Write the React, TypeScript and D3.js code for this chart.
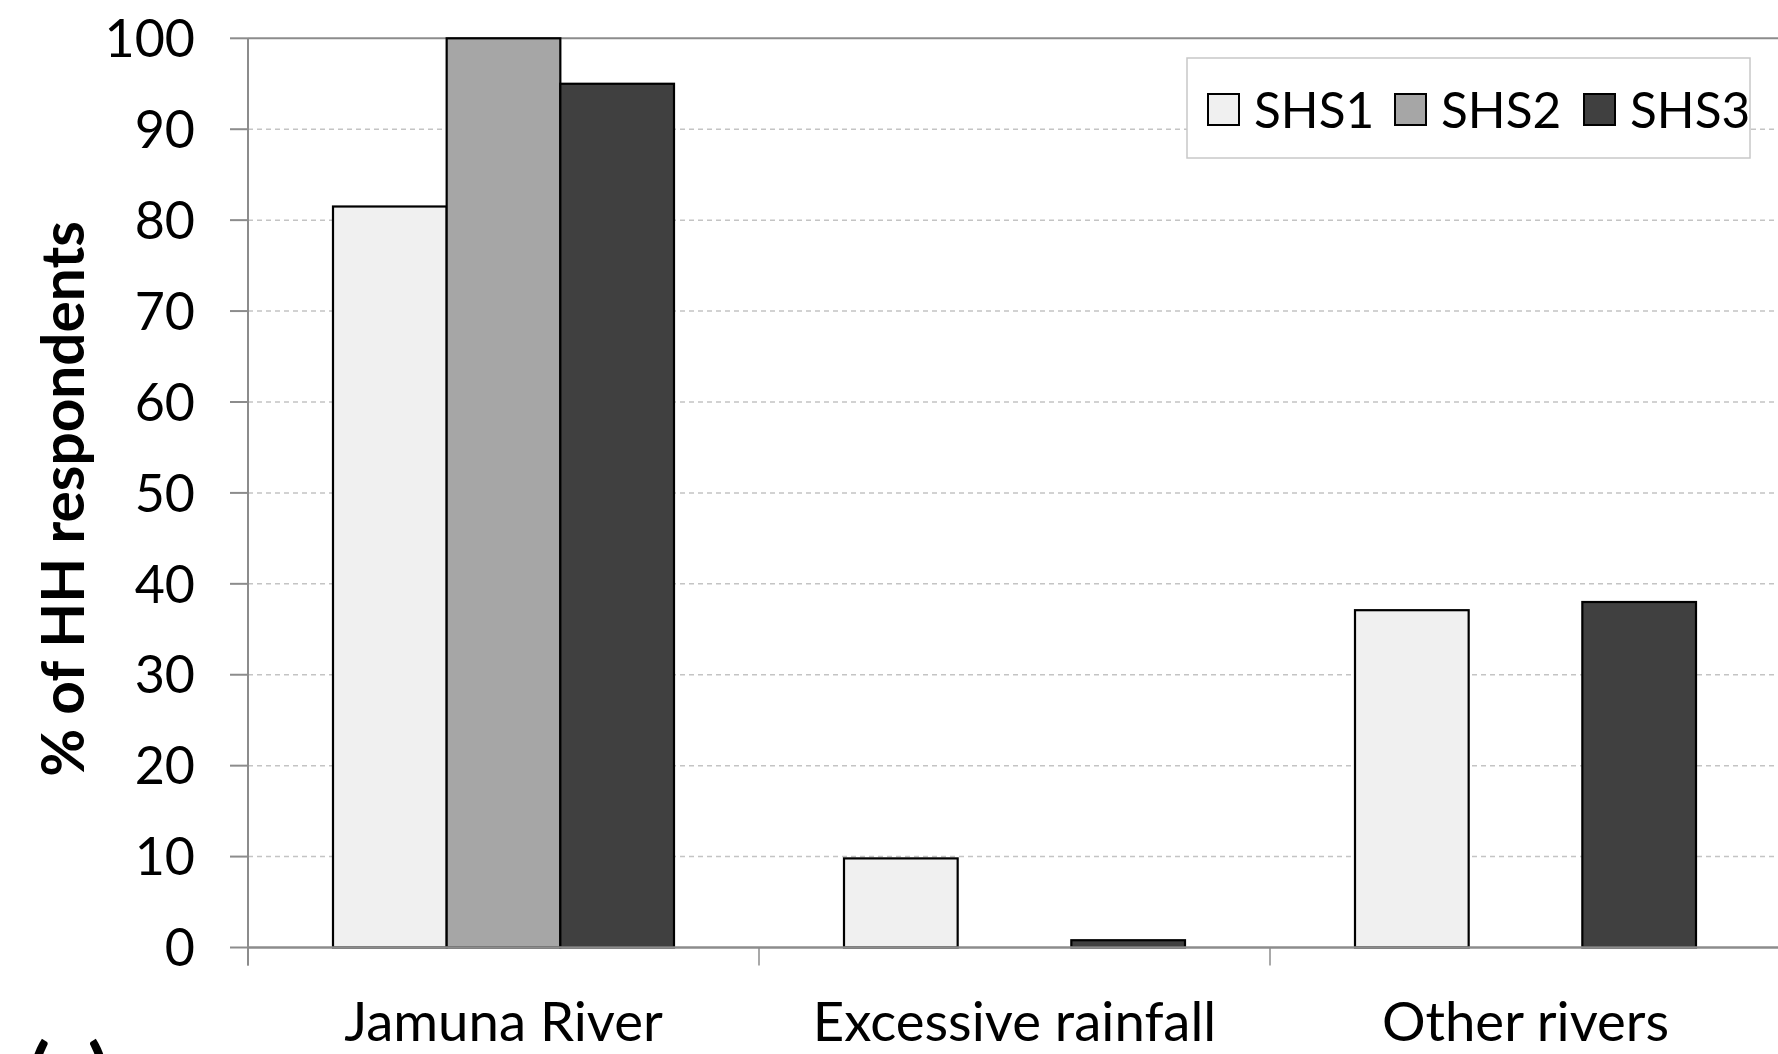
import React from "react";
import * as d3 from "d3";

const categories = ["Jamuna River", "Excessive rainfall", "Other rivers"];
const seriesNames = ["SHS1", "SHS2", "SHS3"];
const shs1 = [81.5, 9.8, 37.1];
const shs2 = [100, 0, 0];
const shs3 = [95, 0.8, 38];
const yTicks = [0, 10, 20, 30, 40, 50, 60, 70, 80, 90, 100];
const colors = ["#f0f0f0", "#a6a6a6", "#404040"];

const W = 1778;
const H = 1054;
const FONT = "Lato, 'Open Sans', sans-serif";

export default function App() {
  const left = 248;
  const catW = 511;
  const top = 38.3;
  const bottom = 947.5;
  const x = d3.scaleBand().domain(categories).range([left, left + catW * 3]).padding(0);
  const inner = d3.scaleBand().domain(seriesNames).range([85, catW - 85]).padding(0);
  const y = d3.scaleLinear().domain([0, 100]).range([bottom, top]);
  const values = [shs1, shs2, shs3];
  const right = left + catW * 3;

  return (
    <svg width={W} height={H} style={{ position: "absolute", left: 0, top: 0, background: "#fff" }}>
      <rect x={0} y={0} width={W} height={H} fill="#fff" />
      {yTicks.filter((t) => t > 0 && t < 100).map((t) => (
        <line key={"g" + t} x1={left} x2={right} y1={y(t)} y2={y(t)} stroke="#c4c4c4" strokeWidth={1.5} strokeDasharray="5,4" />
      ))}
      <line x1={left} x2={right} y1={y(100)} y2={y(100)} stroke="#8c8c8c" strokeWidth={2} />
      {values.map((vals, si) =>
        categories.map((c, ci) => {
          const v = vals[ci];
          if (!v) return null;
          const bx = (x(c) as number) + (inner(seriesNames[si]) as number);
          return (
            <rect key={si + "-" + ci} x={bx} y={y(v)} width={inner.bandwidth()} height={y(0) - y(v)} fill={colors[si]} stroke="#000" strokeWidth={2.2} />
          );
        })
      )}
      <line x1={left} x2={left} y1={y(100)} y2={bottom + 18} stroke="#8c8c8c" strokeWidth={2} />
      {yTicks.map((t) => (
        <g key={"t" + t}>
          <line x1={left - 18} x2={left} y1={y(t)} y2={y(t)} stroke="#8c8c8c" strokeWidth={2} />
          <text x={195} y={y(t)} dy="0.36em" textAnchor="end" fontFamily={FONT} fontSize={52} fill="#000">{t}</text>
        </g>
      ))}
      <line x1={left} x2={right} y1={bottom} y2={bottom} stroke="#8c8c8c" strokeWidth={2.5} />
      {categories.map((c, i) => (
        <line key={"xt" + i} x1={(x(c) as number)} x2={(x(c) as number)} y1={bottom} y2={bottom + 18} stroke="#8c8c8c" strokeWidth={1.5} />
      ))}
      {categories.map((c) => (
        <text key={"xl" + c} x={(x(c) as number) + x.bandwidth() / 2} y={1041} textAnchor="middle" fontFamily={FONT} fontSize={54.5} fill="#000">{c}</text>
      ))}
      <text transform={`translate(84, 499) rotate(-90)`} textAnchor="middle" fontFamily={FONT} fontWeight="bold" fontSize={58.5} fill="#000">% of HH respondents</text>
      <text x={28} y={1102} fontFamily={FONT} fontWeight="bold" fontSize={80} fill="#000">(a)</text>
      <rect x={1187} y={58} width={563} height={100} fill="#fff" stroke="#c8c8c8" strokeWidth={1.5} />
      {seriesNames.map((s, i) => {
        const sx = [1208, 1395, 1584][i];
        return (
          <g key={"lg" + s}>
            <rect x={sx} y={94} width={31} height={31} fill={colors[i]} stroke="#000" strokeWidth={2} />
            <text x={sx + 46} y={110} dy="0.36em" fontFamily={FONT} fontSize={49.5} fill="#000">{s}</text>
          </g>
        );
      })}
    </svg>
  );
}
